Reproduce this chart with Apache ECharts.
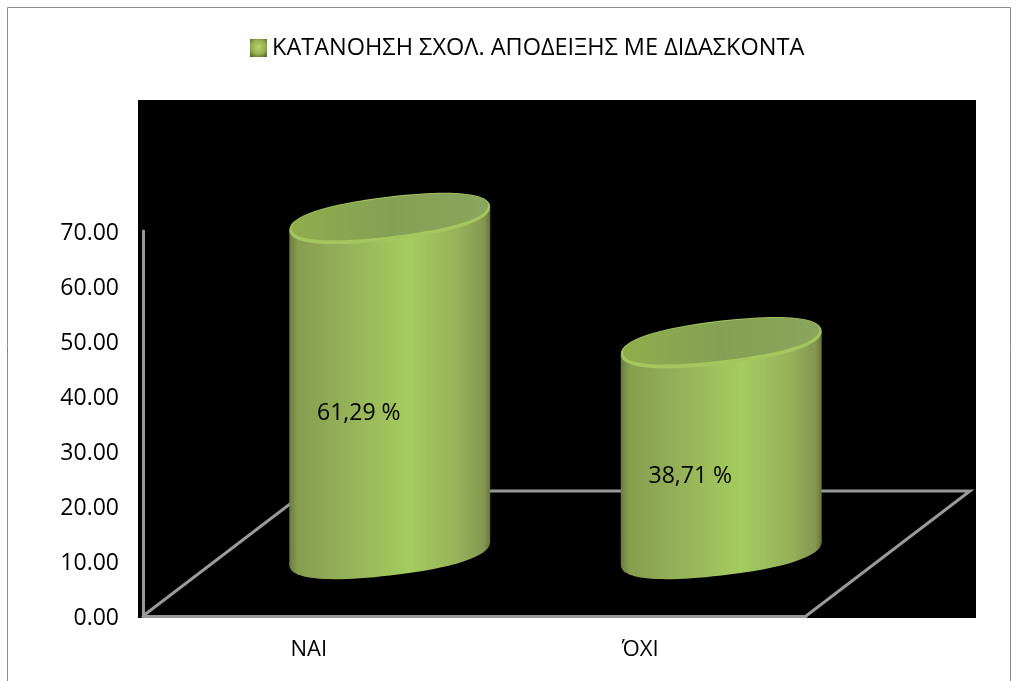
<!DOCTYPE html>
<html>
<head>
<meta charset="utf-8">
<script src="https://cdn.jsdelivr.net/npm/echarts@6/dist/echarts.min.js"></script>
<style>
html, body { margin: 0; padding: 0; background: #fff; }
#chart { width: 1019px; height: 681px; }
</style>
</head>
<body>
<div id="chart"></div>
<script>
const seriesName = 'ΚΑΤΑΝΟΗΣΗ ΣΧΟΛ. ΑΠΟΔΕΙΞΗΣ ΜΕ ΔΙΔΑΣΚΟΝΤΑ'
const categories = ['ΝΑΙ', 'ΌΧΙ']
const values = [61.29, 38.71]
const yMin = 0
const yMax = 70
const yStep = 10

const FONT = '"Open Sans", "Noto Sans", sans-serif'
const LINE = '#999'
// depth of the fake 3d floor, the bars stand half way into it
const depthX = 164
const depthY = 125
const tilt = 0.115

const bodyFill = {
    type: 'linear', x: 0, y: 0, x2: 1, y2: 0,
    colorStops: [
        { offset: 0, color: '#6b7a3e' },
        { offset: 0.04, color: '#869c4e' },
        { offset: 0.2, color: '#90aa56' },
        { offset: 0.6, color: '#a4cc5f' },
        { offset: 0.85, color: '#96b05a' },
        { offset: 0.97, color: '#84964f' },
        { offset: 1, color: '#687439' }
    ]
}
const topFill = {
    type: 'linear', x: 0, y: 0, x2: 1, y2: 0,
    colorStops: [
        { offset: 0, color: '#90ad4c' },
        { offset: 0.5, color: '#84a055' },
        { offset: 1, color: '#8ba65c' }
    ]
}

// sheared, slightly squarish ellipse as path data, the cylinder ends look like this
function capPath (cx, cy, r, ry) {
    const k = 0.64
    const pt = (x, y) => (cx + x) + ' ' + (cy + y - x * tilt)
    return 'M' + pt(-r, 0) +
        'C' + pt(-r, -ry * k) + ' ' + pt(-r * k, -ry) + ' ' + pt(0, -ry) +
        'C' + pt(r * k, -ry) + ' ' + pt(r, -ry * k) + ' ' + pt(r, 0) +
        'C' + pt(r, ry * k) + ' ' + pt(r * k, ry) + ' ' + pt(0, ry) +
        'C' + pt(-r * k, ry) + ' ' + pt(-r, ry * k) + ' ' + pt(-r, 0) + 'Z'
}

function renderFloor (params) {
    const c = params.coordSys
    const x0 = c.x
    const x1 = c.x + c.width
    const y0 = c.y + c.height
    const lineStyle = { stroke: LINE, lineWidth: 3, fill: null }
    return {
        type: 'group',
        children: [
            { type: 'rect', shape: { x: x0 - 5, y: c.y - 131, width: c.width + 175, height: c.height + 133 }, style: { fill: '#000' } },
            { type: 'polyline', shape: { points: [[x0, y0], [x0 + depthX, y0 - depthY], [x1 + depthX, y0 - depthY], [x1, y0]] }, style: lineStyle }
        ]
    }
}

function renderBar (params, api) {
    const i = api.value(0)
    const v = api.value(1)
    const p = api.coord([i, v])
    const p0 = api.coord([i, 0])
    const r = api.size([1, 0])[0] * 0.303
    const cx = p[0] + depthX / 2 - 1
    const by = p0[1] - depthY / 2
    const ty = p[1] - depthY / 2 + 2
    const ry = 22
    const dy = r * tilt
    return {
        type: 'group',
        children: [
            { type: 'path', shape: { pathData: capPath(cx, by, r, ry) }, style: { fill: bodyFill } },
            {
                type: 'polygon',
                shape: { points: [[cx - r, ty + dy], [cx + r, ty - dy], [cx + r, by - dy], [cx - r, by + dy]] },
                style: { fill: bodyFill }
            },
            { type: 'path', shape: { pathData: capPath(cx, ty, r, ry) }, style: { fill: '#a3c65f' } },
            { type: 'path', shape: { pathData: capPath(cx, ty - 1.5, r - 2, ry - 2.5) }, style: { fill: topFill } },
            {
                type: 'text',
                x: cx - 31,
                y: (ty + by) / 2 + 28,
                style: {
                    text: v.toFixed(2).replace('.', ',') + ' %',
                    fill: '#000',
                    font: '23px ' + FONT,
                    align: 'center',
                    verticalAlign: 'middle'
                }
            }
        ]
    }
}

const myChart = echarts.init(document.getElementById('chart'))
myChart.setOption({
    animation: false,
    backgroundColor: '#fff',
    graphic: [{
        type: 'rect',
        shape: { x: 7.5, y: 7.5, width: 1003, height: 700 },
        style: { fill: null, stroke: '#8c8c8c', lineWidth: 1 },
        silent: true
    }],
    legend: {
        data: [seriesName],
        top: 31,
        left: 245,
        icon: 'rect',
        itemWidth: 17,
        itemHeight: 18,
        itemGap: 10,
        textStyle: { fontFamily: FONT, fontSize: 23.5, color: '#000' },
        itemStyle: {
            color: {
                type: 'radial', x: 0.5, y: 0.45, r: 0.7,
                colorStops: [{ offset: 0, color: '#b5d46e' }, { offset: 0.6, color: '#94b050' }, { offset: 1, color: '#55642a' }]
            }
        }
    },
    grid: { left: 143, right: 213, top: 231, bottom: 65 },
    xAxis: {
        type: 'category',
        data: categories,
        axisLine: { lineStyle: { color: LINE, width: 3 } },
        axisTick: { show: false },
        axisLabel: { color: '#000', fontFamily: FONT, fontSize: 22, margin: 23 }
    },
    yAxis: {
        type: 'value',
        min: yMin,
        max: yMax,
        interval: yStep,
        axisLine: { show: true, lineStyle: { color: LINE, width: 3 } },
        axisTick: { show: false },
        splitLine: { show: false },
        axisLabel: {
            margin: 24,
            formatter: v => '{a|' + v.toFixed(2) + '}',
            rich: {
                a: {
                    color: '#000',
                    fontFamily: FONT,
                    fontSize: 23,
                    padding: [5, 0, 0, 0]
                }
            }
        }
    },
    series: [{
        name: 'floor',
        type: 'custom',
        z: -1,
        silent: true,
        renderItem: renderFloor,
        data: [0]
    }, {
        name: seriesName,
        type: 'custom',
        z: 3,
        renderItem: renderBar,
        encode: { x: 0, y: 1 },
        itemStyle: { color: '#a4cc5f' },
        data: categories.map((c, i) => [i, values[i]])
    }]
})
</script>
</body>
</html>
